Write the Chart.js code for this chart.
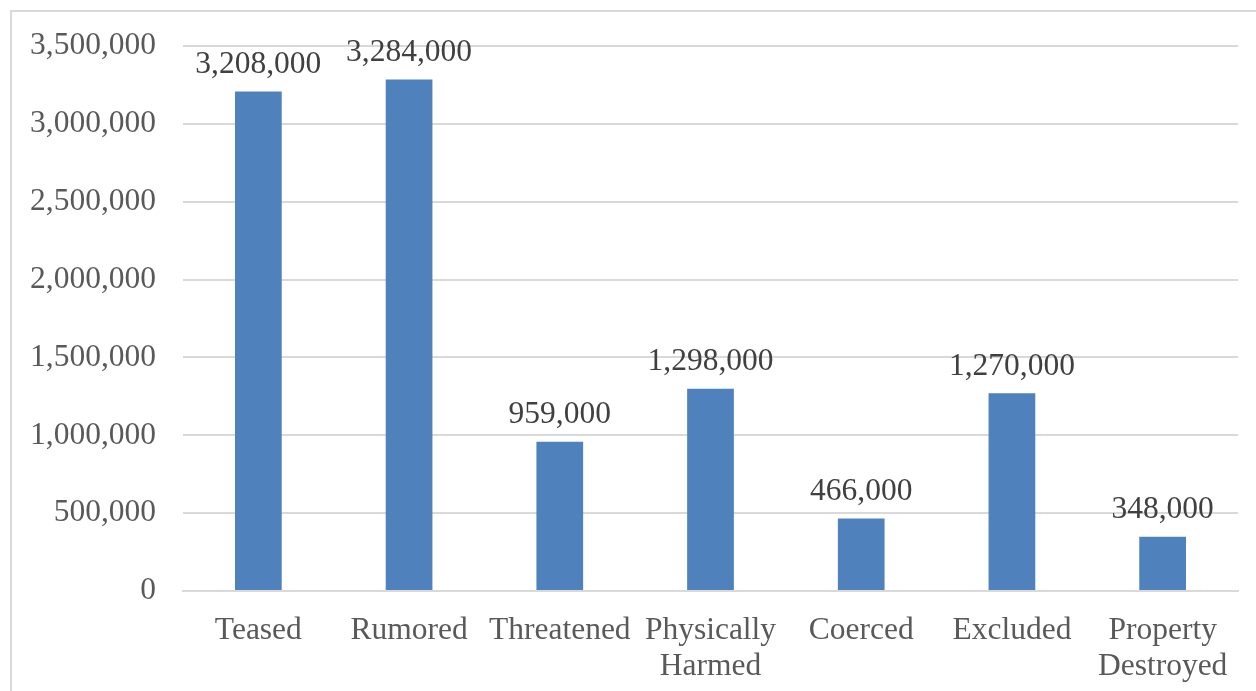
<!DOCTYPE html>
<html lang="en">
<head>
<meta charset="UTF-8" />
<title>Bullying types</title>
<script src="https://cdn.jsdelivr.net/npm/chart.js"></script>
<style>
  html, body { margin: 0; padding: 0; background: #fff; overflow: hidden; }
  #frame { position: absolute; left: 10px; top: 10px; width: 1270px; height: 720px; border: 2px solid #d9d9d9; box-sizing: border-box; }
  #wrap { position: absolute; left: 0; top: 0; width: 1256px; height: 691px; }
</style>
</head>
<body>
<div id="frame"></div>
<div id="wrap"><canvas id="chart"></canvas></div>
<script>
const categories = ['Teased', 'Rumored', 'Threatened', ['Physically', 'Harmed'], 'Coerced', 'Excluded', ['Property', 'Destroyed']];
const counts = [3208000, 3284000, 959000, 1298000, 466000, 1270000, 348000];
const yTicks = [0, 500000, 1000000, 1500000, 2000000, 2500000, 3000000, 3500000];

const fmt = v => v.toLocaleString('en-US');
const FONT = '"Liberation Serif", "Times New Roman", serif';

// value labels above each bar
const valueLabels = {
  id: 'valueLabels',
  afterDatasetsDraw(chart) {
    const ctx = chart.ctx;
    const meta = chart.getDatasetMeta(0);
    ctx.save();
    ctx.font = '31.5px ' + FONT;
    ctx.fillStyle = '#404040';
    ctx.textAlign = 'center';
    ctx.textBaseline = 'bottom';
    meta.data.forEach((bar, i) => {
      ctx.fillText(fmt(counts[i]), bar.x, bar.y - 11);
    });
    ctx.restore();
  }
};

new Chart(document.getElementById('chart'), {
  type: 'bar',
  data: {
    labels: categories,
    datasets: [{
      data: counts,
      backgroundColor: '#4f81bd',
      barPercentage: 0.62,
      categoryPercentage: 0.5
    }]
  },
  options: {
    responsive: true,
    maintainAspectRatio: false,
    animation: false,
    layout: { padding: { top: 35, right: 18, left: 0, bottom: 0 } },
    plugins: { legend: { display: false }, tooltip: { enabled: false } },
    scales: {
      x: {
        grid: { display: false, drawTicks: false },
        border: { color: '#d9d9d9', width: 2 },
        ticks: { color: '#595959', font: { family: FONT, size: 31.5, lineHeight: 1.14 }, padding: 22, maxRotation: 0, autoSkip: false },
        afterFit(scale) { scale.height = 100; }
      },
      y: {
        min: 0,
        max: 3500000,
        afterBuildTicks(scale) { scale.ticks = yTicks.map(v => ({ value: v })); },
        grid: { color: '#d9d9d9', lineWidth: 2, drawTicks: false },
        border: { display: false },
        ticks: { color: '#595959', font: { family: FONT, size: 31.5 }, padding: 27, callback: v => fmt(v) },
        afterFit(scale) { scale.width = 183; }
      }
    }
  },
  plugins: [valueLabels]
});
</script>
</body>
</html>
